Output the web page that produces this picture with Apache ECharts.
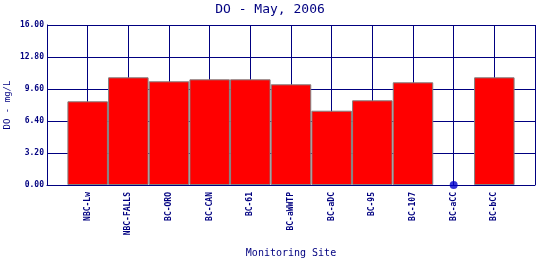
<!DOCTYPE html>
<html><head><meta charset="utf-8">
<script src="https://cdn.jsdelivr.net/npm/echarts@6/dist/echarts.min.js"></script>
<style>html,body{margin:0;padding:0;background:#fff}#c{width:540px;height:260px}</style>
</head><body><div id="c"></div>
<script>
var sites = ['NBC-Lw','NBC-FALLS','BC-ORO','BC-CAN','BC-61','BC-aWWTP','BC-aDC','BC-95','BC-107','BC-aCC','BC-bCC'];
var doValues = [8.37, 10.77, 10.37, 10.57, 10.57, 10.07, 7.43, 8.47, 10.27, null, 10.77];
var missingSites = ['BC-aCC'];
var yTicks = [0, 3.2, 6.4, 9.6, 12.8, 16];

var navy = '#000080';
var font = 'DejaVu Sans Mono';
var barData = [];
doValues.forEach(function(v,i){ if (v !== null) barData.push([i+1, v]); });
var dotData = missingSites.map(function(s){ return [sites.indexOf(s)+1, 0]; });

var chart = echarts.init(document.getElementById('c'), null, {renderer:'canvas'});
chart.setOption({
  animation: false,
  backgroundColor: '#fff',
  title: { text: 'DO - May, 2006', left: 'center', top: -2,
    textStyle: { fontFamily: font, fontSize: 13, fontWeight: 'normal', color: navy } },
  grid: { left: 47, right: 5, top: 25, bottom: 75, containLabel: false, outerBoundsMode: 'none' },
  xAxis: {
    type: 'value', min: 0, max: sites.length + 1, interval: 1,
    name: 'Monitoring Site', nameLocation: 'middle', nameGap: 63, nameMoveOverlap: false,
    nameTextStyle: { fontFamily: font, fontSize: 10, color: navy },
    axisLine: { show: true, onZero: false, lineStyle: { color: navy, width: 1 } },
    axisTick: { show: false },
    splitLine: { show: true, lineStyle: { color: navy, width: 1 } },
    axisLabel: { rotate: 90, margin: 7, fontFamily: font, fontSize: 8, fontWeight: 'bold', color: navy,
      showMinLabel: true, showMaxLabel: true,
      formatter: function(v){ return sites[v-1] || ''; } }
  },
  yAxis: {
    type: 'value', min: yTicks[0], max: yTicks[yTicks.length-1], interval: yTicks[1] - yTicks[0],
    name: 'DO - mg/L', nameLocation: 'middle', nameGap: 35, nameMoveOverlap: false,
    nameTextStyle: { fontFamily: font, fontSize: 9, color: navy },
    axisLine: { show: true, lineStyle: { color: navy, width: 1 } },
    axisTick: { show: false },
    splitLine: { show: true, lineStyle: { color: navy, width: 1 } },
    axisLabel: { margin: 3, fontFamily: font, fontSize: 8, fontWeight: 'bold', color: navy,
      formatter: function(v){ return v.toFixed(2); } }
  },
  series: [
    { type: 'bar', data: barData, barWidth: 40.5,
      itemStyle: { color: '#ff0000', borderColor: '#808080', borderWidth: 1 } },
    { type: 'scatter', data: dotData, symbolSize: 8, clip: false, z: 5,
      itemStyle: { color: '#0000cc' } }
  ]
});
</script></body></html>
